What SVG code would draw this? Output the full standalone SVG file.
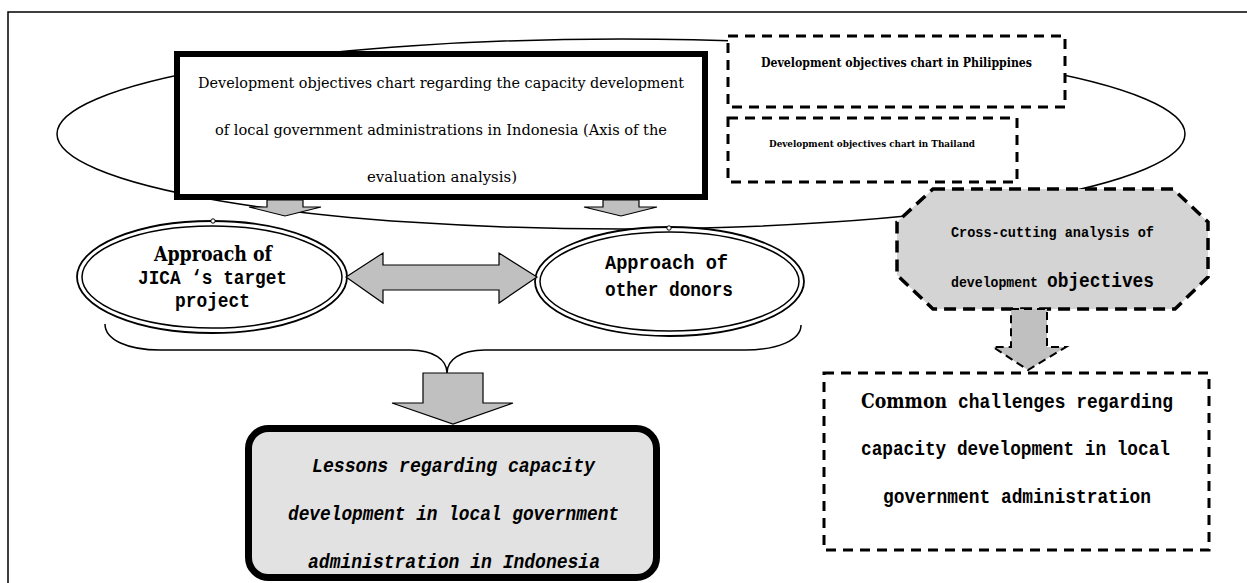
<svg xmlns="http://www.w3.org/2000/svg" width="1247" height="583" viewBox="0 0 1247 583">
<style>
.serif{font-family:"DejaVu Serif","Liberation Serif",serif;fill:#000}
.goth{font-family:"Liberation Mono","DejaVu Sans Mono",monospace;fill:#000;font-weight:bold}
.ln{fill:none;stroke:#000;stroke-width:1.5}
.arr{fill:#c0c0c0;stroke:#000;stroke-width:1.2;stroke-linejoin:miter}
.dash{fill:#fff;stroke:#000;stroke-width:3;stroke-dasharray:10 7}
.dbl{fill:#fff;stroke:#000;stroke-width:1.8}
.dbl2{fill:none;stroke:#000;stroke-width:1.5}
.pin{fill:#fff;stroke:#000;stroke-width:1}
</style>
<rect width="1247" height="583" fill="#fff"/>
<path d="M8,583 V12 H1247" fill="none" stroke="#000" stroke-width="1.5"/>

<g id="scope-ellipse">
<ellipse cx="621" cy="134" rx="564" ry="95" class="ln"/>
</g>

<g id="indonesia-chart">
<rect x="177" y="54" width="528" height="143" fill="#fff" stroke="#000" stroke-width="6"/>
<text class="serif" font-size="14.5" x="198" y="88" textLength="486" lengthAdjust="spacingAndGlyphs">Development objectives chart regarding the capacity development</text>
<text class="serif" font-size="14.5" x="215" y="135" textLength="452" lengthAdjust="spacingAndGlyphs">of local government administrations in Indonesia (Axis of the</text>
<text class="serif" font-size="14.5" x="367" y="182" textLength="150" lengthAdjust="spacingAndGlyphs">evaluation analysis)</text>
</g>

<g id="philippines-chart">
<rect x="728" y="36" width="337" height="71" class="dash"/>
<text class="serif" font-size="12" font-weight="bold" x="761" y="67" textLength="271" lengthAdjust="spacingAndGlyphs">Development objectives chart in Philippines</text>
</g>

<g id="thailand-chart">
<rect x="728" y="118" width="289" height="64" class="dash"/>
<text class="serif" font-size="10" font-weight="bold" x="769" y="147" textLength="206" lengthAdjust="spacingAndGlyphs">Development objectives chart in Thailand</text>
</g>

<g id="jica-approach">
<ellipse cx="212" cy="277" rx="135" ry="56" class="dbl"/>
<ellipse cx="212" cy="277" rx="130" ry="51" class="dbl2"/>
<circle cx="213" cy="221" r="2.2" class="pin"/>
<text class="serif" font-size="20" font-weight="bold" x="154" y="261" textLength="118" lengthAdjust="spacingAndGlyphs">Approach of</text>
<text class="goth" font-size="20" x="138" y="284" textLength="149" lengthAdjust="spacingAndGlyphs">JICA ‘s target</text>
<text class="goth" font-size="20" x="175" y="307" textLength="75" lengthAdjust="spacingAndGlyphs">project</text>
</g>

<g id="other-donors">
<ellipse cx="669.5" cy="281.5" rx="134.5" ry="54.5" class="dbl"/>
<ellipse cx="669.5" cy="281.5" rx="129.5" ry="49.5" class="dbl2"/>
<circle cx="669" cy="228" r="2.2" class="pin"/>
<text class="goth" font-size="20" x="605" y="269" textLength="123" lengthAdjust="spacingAndGlyphs">Approach of</text>
<text class="goth" font-size="20" x="605" y="296" textLength="128" lengthAdjust="spacingAndGlyphs">other donors</text>
</g>

<g id="lessons">
<rect x="248.5" y="428.5" width="408" height="149" rx="20" fill="#e2e2e2" stroke="#000" stroke-width="7"/>
<text class="goth" font-size="20" font-style="italic" x="312" y="472" textLength="283" lengthAdjust="spacingAndGlyphs">Lessons regarding capacity</text>
<text class="goth" font-size="20" font-style="italic" x="288" y="520" textLength="331" lengthAdjust="spacingAndGlyphs">development in local government</text>
<text class="goth" font-size="20" font-style="italic" x="308" y="568" textLength="292" lengthAdjust="spacingAndGlyphs">administration in Indonesia</text>
</g>

<g id="cross-cutting">
<polygon points="933,189 1173,189 1208,222 1208,277 1175,309 933,309 897,275 897,222" fill="#d4d4d4" stroke="#000" stroke-width="3.5" stroke-dasharray="12 7"/>
<text class="goth" font-size="15" x="951" y="237" textLength="203" lengthAdjust="spacingAndGlyphs">Cross-cutting analysis of</text>
<text class="goth" font-size="15" x="951" y="287" textLength="87" lengthAdjust="spacingAndGlyphs">development</text>
<text class="goth" font-size="20" font-weight="normal" x="1047" y="287" textLength="107" lengthAdjust="spacingAndGlyphs">objectives</text>
</g>

<g id="common-challenges">
<rect x="824" y="373" width="385" height="177" class="dash" stroke-dasharray="11 8"/>
<text y="408"><tspan class="serif" font-size="20" font-weight="bold" x="861" textLength="86" lengthAdjust="spacingAndGlyphs">Common</tspan><tspan class="goth" font-size="20" x="958" textLength="215" lengthAdjust="spacingAndGlyphs">challenges regarding</tspan></text>
<text class="goth" font-size="20" x="861" y="455" textLength="309" lengthAdjust="spacingAndGlyphs">capacity development in local</text>
<text class="goth" font-size="20" x="883" y="503" textLength="268" lengthAdjust="spacingAndGlyphs">government administration</text>
</g>

<g id="connectors">
<polygon class="arr" points="267,200 303,200 303,207 321,207 285,216 249,207 267,207"/>
<polygon class="arr" points="603,200 639,200 639,207 657,207 621,216 584,207 603,207"/>
<polygon class="arr" points="346,277 383,253 383,265 499,265 499,253 537,277 499,303 499,290 383,290 383,303"/>
<path class="ln" d="M105,324 C105,340 128,350 160,350 L410,350 C434,350 447,360 447,373 C447,360 460,350 485,350 L745,350 C778,350 801,340 801,325"/>
<polygon class="arr" points="423,373 483,373 483,403 513,403 453,424 392,403 423,403"/>
<polygon points="1011,309 1047,309 1047,347 1066,347 1028,370 993,347 1011,347" fill="#c0c0c0" stroke="#000" stroke-width="2" stroke-dasharray="8 5"/>
</g>
</svg>
